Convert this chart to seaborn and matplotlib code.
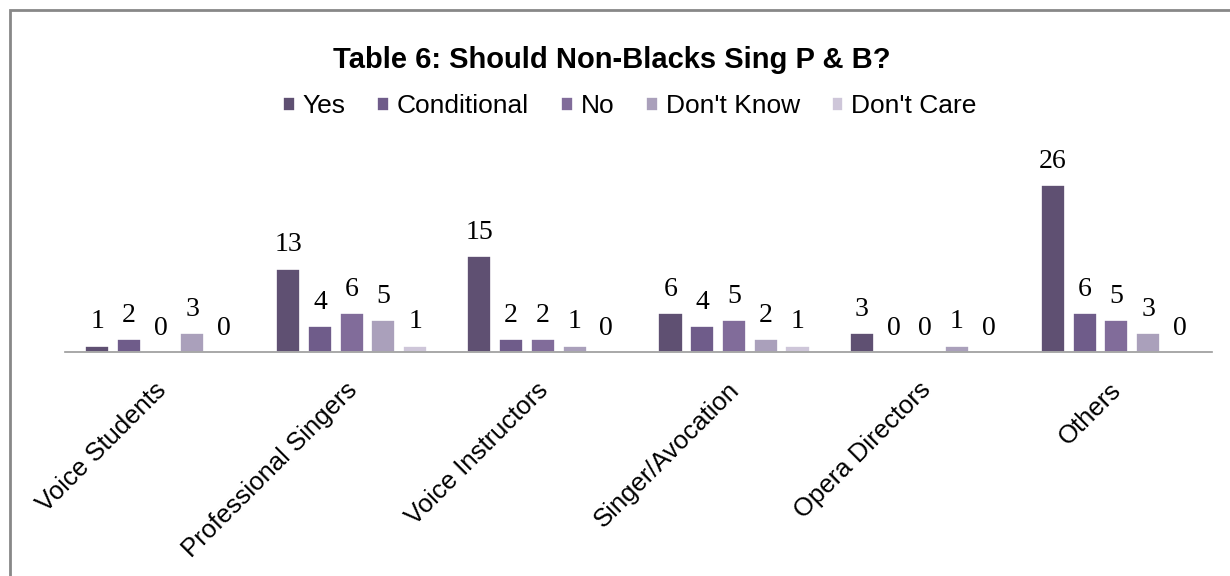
import pandas as pd
import seaborn as sns
import matplotlib.pyplot as plt
import matplotlib.transforms as mtransforms
from matplotlib.patches import Rectangle

groups = ["Voice Students", "Professional Singers", "Voice Instructors",
          "Singer/Avocation", "Opera Directors", "Others"]
answers = ["Yes", "Conditional", "No", "Don't Know", "Don't Care"]
yes = [1, 13, 15, 6, 3, 26]
conditional = [2, 4, 2, 4, 0, 6]
no = [0, 6, 2, 5, 0, 5]
dont_know = [3, 5, 1, 2, 1, 3]
dont_care = [0, 1, 0, 1, 0, 0]
colors = ["#5f4a78", "#6e5591", "#8064a2", "#a99bc0", "#cdc3dc"]

df = pd.DataFrame({"Group": groups, "Yes": yes, "Conditional": conditional,
                   "No": no, "Don't Know": dont_know, "Don't Care": dont_care})
long = df.melt(id_vars="Group", var_name="Answer", value_name="Count")

sns.set_style("white")
plt.rcParams['font.family'] = ['Liberation Sans', 'DejaVu Sans']
plt.rcParams['text.color'] = 'black'
plt.rcParams['xtick.color'] = 'black'

fig = plt.figure(figsize=(12.3, 5.76), dpi=100)
ax = fig.add_axes([0.0528, 0.389, 0.9325, 0.334])

sns.barplot(data=long, x="Group", y="Count", hue="Answer", hue_order=answers,
            order=groups, palette=colors, width=0.83, gap=0.24,
            edgecolor="white", linewidth=1.2, ax=ax)

for cont in ax.containers:
    ax.bar_label(cont, padding=8, fontsize=20, family="Liberation Serif", color="black")

ax.set_ylim(0, 30)
ax.set_xlim(-0.5, 5.5)
ax.set_xlabel("")
ax.set_ylabel("")
ax.set_yticks([])
ax.tick_params(axis="x", length=0, pad=10)
shift = mtransforms.ScaledTranslation(-0.07, -0.12, fig.dpi_scale_trans)
for lbl in ax.get_xticklabels():
    lbl.set_rotation(45)
    lbl.set_ha("right")
    lbl.set_rotation_mode("anchor")
    lbl.set_fontsize(18.5)
    lbl.set_transform(lbl.get_transform() + shift)
for s in ["top", "left", "right"]:
    ax.spines[s].set_visible(False)
ax.spines["bottom"].set_color("#999999")
ax.spines["bottom"].set_linewidth(1.2)

ax.legend(loc="center", ncol=5, frameon=False, fontsize=19, handlelength=0.45,
          handleheight=0.45, handletextpad=0.3, columnspacing=1.2)
leg = ax.get_legend()
leg.set_bbox_to_anchor((0.512, 1 - 106 / 576), transform=fig.transFigure)

fig.text(0.497, 1 - 60 / 576, "Table 6: Should Non-Blacks Sing P & B?", ha="center",
         va="center", fontsize=21, fontweight="bold", color="black")

fig.patches.append(Rectangle((9.5 / 1230, -0.05), 1.1, 1 - 9.5 / 576 + 0.05,
                             transform=fig.transFigure, fill=False,
                             edgecolor="#888888", linewidth=2))

fig.savefig("out.png", dpi=100)
